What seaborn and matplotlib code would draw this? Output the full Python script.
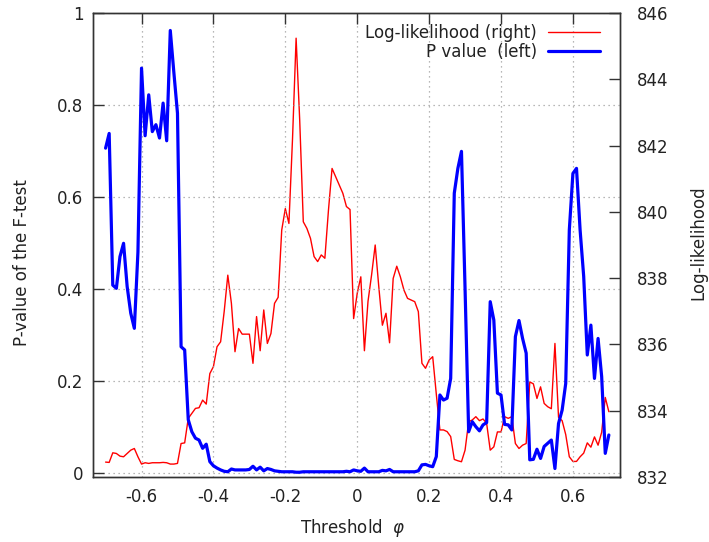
import matplotlib
matplotlib.use("Agg")
import matplotlib.pyplot as plt
import seaborn as sns
import pandas as pd

threshold = [
    -0.70, -0.69, -0.68, -0.67, -0.66, -0.65, -0.64, -0.63, -0.62, -0.61,
    -0.60, -0.59, -0.58, -0.57, -0.56, -0.55, -0.54, -0.53, -0.52, -0.51,
    -0.50, -0.49, -0.48, -0.47, -0.46, -0.45, -0.44, -0.43, -0.42, -0.41,
    -0.40, -0.39, -0.38, -0.37, -0.36, -0.35, -0.34, -0.33, -0.32, -0.31,
    -0.30, -0.29, -0.28, -0.27, -0.26, -0.25, -0.24, -0.23, -0.22, -0.21,
    -0.20, -0.19, -0.18, -0.17, -0.16, -0.15, -0.14, -0.13, -0.12, -0.11,
    -0.10, -0.09, -0.08, -0.07, -0.06, -0.05, -0.04, -0.03, -0.02, -0.01,
    0.00, 0.01, 0.02, 0.03, 0.04, 0.05, 0.06, 0.07, 0.08, 0.09,
    0.10, 0.11, 0.12, 0.13, 0.14, 0.15, 0.16, 0.17, 0.18, 0.19,
    0.20, 0.21, 0.22, 0.23, 0.24, 0.25, 0.26, 0.27, 0.28, 0.29,
    0.30, 0.31, 0.32, 0.33, 0.34, 0.35, 0.36, 0.37, 0.38, 0.39,
    0.40, 0.41, 0.42, 0.43, 0.44, 0.45, 0.46, 0.47, 0.48, 0.49,
    0.50, 0.51, 0.52, 0.53, 0.54, 0.55, 0.56, 0.57, 0.58, 0.59,
    0.60, 0.61, 0.62, 0.63, 0.64, 0.65, 0.66, 0.67, 0.68, 0.69,
    0.70,
]

p_value = [
    0.706, 0.738, 0.408, 0.401, 0.470, 0.499, 0.405, 0.347, 0.314, 0.480,
    0.880, 0.733, 0.822, 0.742, 0.757, 0.728, 0.804, 0.722, 0.962, 0.870,
    0.782, 0.274, 0.267, 0.115, 0.089, 0.075, 0.071, 0.053, 0.062, 0.024,
    0.015, 0.010, 0.006, 0.003, 0.002, 0.008, 0.006, 0.006, 0.006, 0.006,
    0.007, 0.014, 0.006, 0.012, 0.004, 0.009, 0.007, 0.004, 0.003, 0.002,
    0.002, 0.002, 0.002, 0.001, 0.001, 0.002, 0.002, 0.002, 0.002, 0.002,
    0.002, 0.002, 0.002, 0.002, 0.002, 0.002, 0.002, 0.003, 0.002, 0.006,
    0.004, 0.003, 0.010, 0.002, 0.002, 0.002, 0.002, 0.005, 0.004, 0.007,
    0.002, 0.002, 0.002, 0.002, 0.002, 0.002, 0.002, 0.004, 0.017, 0.018,
    0.015, 0.013, 0.035, 0.169, 0.158, 0.162, 0.205, 0.608, 0.662, 0.699,
    0.400, 0.089, 0.111, 0.100, 0.091, 0.104, 0.109, 0.372, 0.332, 0.173,
    0.169, 0.105, 0.104, 0.093, 0.296, 0.331, 0.292, 0.260, 0.028, 0.029,
    0.051, 0.031, 0.057, 0.064, 0.071, 0.009, 0.107, 0.136, 0.194, 0.528,
    0.651, 0.662, 0.528, 0.427, 0.256, 0.321, 0.205, 0.292, 0.209, 0.042,
    0.082,
]

log_likelihood = [
    832.45, 832.44, 832.73, 832.71, 832.63, 832.61, 832.71, 832.81, 832.86, 832.61,
    832.39, 832.43, 832.41, 832.43, 832.43, 832.43, 832.44, 832.43, 832.39, 832.39,
    832.41, 833.01, 833.03, 833.77, 833.92, 834.07, 834.09, 834.32, 834.20, 835.12,
    835.33, 835.93, 836.08, 837.00, 838.09, 837.24, 835.78, 836.48, 836.31, 836.31,
    836.31, 835.43, 836.84, 835.81, 837.04, 836.03, 836.33, 837.24, 837.42, 839.45,
    840.10, 839.65, 842.20, 845.24, 842.77, 839.70, 839.50, 839.20, 838.65, 838.50,
    838.70, 838.60, 840.05, 841.31, 841.06, 840.81, 840.56, 840.16, 840.07, 836.78,
    837.54, 838.04, 835.81, 837.30, 838.10, 839.00, 837.74, 836.58, 836.94, 836.05,
    837.99, 838.36, 838.04, 837.64, 837.39, 837.34, 837.29, 836.99, 835.43, 835.28,
    835.53, 835.63, 834.50, 833.42, 833.42, 833.37, 833.22, 832.53, 832.49, 832.46,
    832.81, 833.67, 833.72, 833.82, 833.70, 833.75, 833.62, 832.81, 832.91, 833.36,
    833.36, 833.82, 833.77, 833.82, 833.01, 832.86, 832.96, 833.01, 834.87, 834.81,
    834.37, 834.72, 834.22, 834.12, 834.06, 836.03, 833.80, 833.70, 833.28, 832.61,
    832.47, 832.47, 832.61, 832.72, 833.03, 832.90, 833.21, 832.96, 833.35, 834.40,
    833.97,
]

x_ticks = [-0.6, -0.4, -0.2, 0, 0.2, 0.4, 0.6]
x_tick_labels = ["-0.6", "-0.4", "-0.2", "0", "0.2", "0.4", "0.6"]
left_ticks = [0, 0.2, 0.4, 0.6, 0.8, 1.0]
left_tick_labels = ["0", "0.2", "0.4", "0.6", "0.8", "1"]
right_ticks = [832, 834, 836, 838, 840, 842, 844, 846]
right_tick_labels = ["832", "834", "836", "838", "840", "842", "844", "846"]

sns.set_theme(style="white")
plt.rcParams["font.family"] = ["DejaVu Sans"]
plt.rcParams["axes.unicode_minus"] = False

df = pd.DataFrame({"threshold": threshold, "p": p_value, "ll": log_likelihood})

W, H = 709, 542
fig = plt.figure(figsize=(W / 100, H / 100), dpi=100)
L, R, T, B = 93, 620, 13, 477
ax = fig.add_axes([L / W, 1 - B / H, (R - L) / W, (B - T) / H])
ax2 = ax.twinx()

sns.lineplot(data=df, x="threshold", y="ll", ax=ax2, color="#ff0000",
             linewidth=1.0, sort=False, errorbar=None, legend=False)
sns.lineplot(data=df, x="threshold", y="p", ax=ax, color="#0000ff",
             linewidth=2.3, sort=False, errorbar=None, legend=False)

ax.set_zorder(ax2.get_zorder() + 1)
ax.patch.set_visible(False)

ax.set_xlim(-0.735, 0.731)
ax.set_ylim(-0.0094, 1.0)
ax2.set_ylim(832, 846)

FS = 12
txt = "#222222"
ax.set_xticks(x_ticks)
ax.set_xticklabels(x_tick_labels)
ax.set_yticks(left_ticks)
ax.set_yticklabels(left_tick_labels)
ax2.set_yticks(right_ticks)
ax2.set_yticklabels(right_tick_labels)

ax.tick_params(axis="both", direction="in", length=8, width=1.0, color="#333333",
               labelsize=FS, labelcolor=txt, top=True, right=False)
ax.tick_params(axis="y", pad=7)
ax.tick_params(axis="x", pad=8)
ax2.tick_params(axis="y", direction="in", length=8, width=1.0, color="#333333",
                labelsize=FS, labelcolor=txt, pad=12)

ax.grid(True, linestyle=(0, (1, 3)), color="#a0a0a0", linewidth=0.9)
ax.set_axisbelow(True)
ax2.grid(False)

for a in (ax, ax2):
    for s in a.spines.values():
        s.set_color("#333333")
        s.set_linewidth(1.0)

ax.set_xlabel("Threshold  $\\varphi$", fontsize=FS, color=txt)
ax.xaxis.set_label_coords(0.493, -0.086)
ax.xaxis.label.set_va("top")
ax.set_ylabel("P-value of the F-test", fontsize=FS, color=txt)
ax.yaxis.set_label_coords(-0.118, 0.463)
ax2.set_ylabel("Log-likelihood", fontsize=FS, color=txt)
ax2.yaxis.set_label_coords(1.131, 0.506)

handles = [ax2.lines[0], ax.lines[0]]
labels = ["Log-likelihood (right)", "P value  (left)"]
ax.legend(handles, labels, loc="upper right", bbox_to_anchor=(0.962, 0.977),
          frameon=False, markerfirst=False, handlelength=3.1, handletextpad=0.7,
          labelspacing=0.08, borderpad=0, borderaxespad=0, fontsize=FS,
          labelcolor=txt)

fig.savefig("out.png", dpi=100)
